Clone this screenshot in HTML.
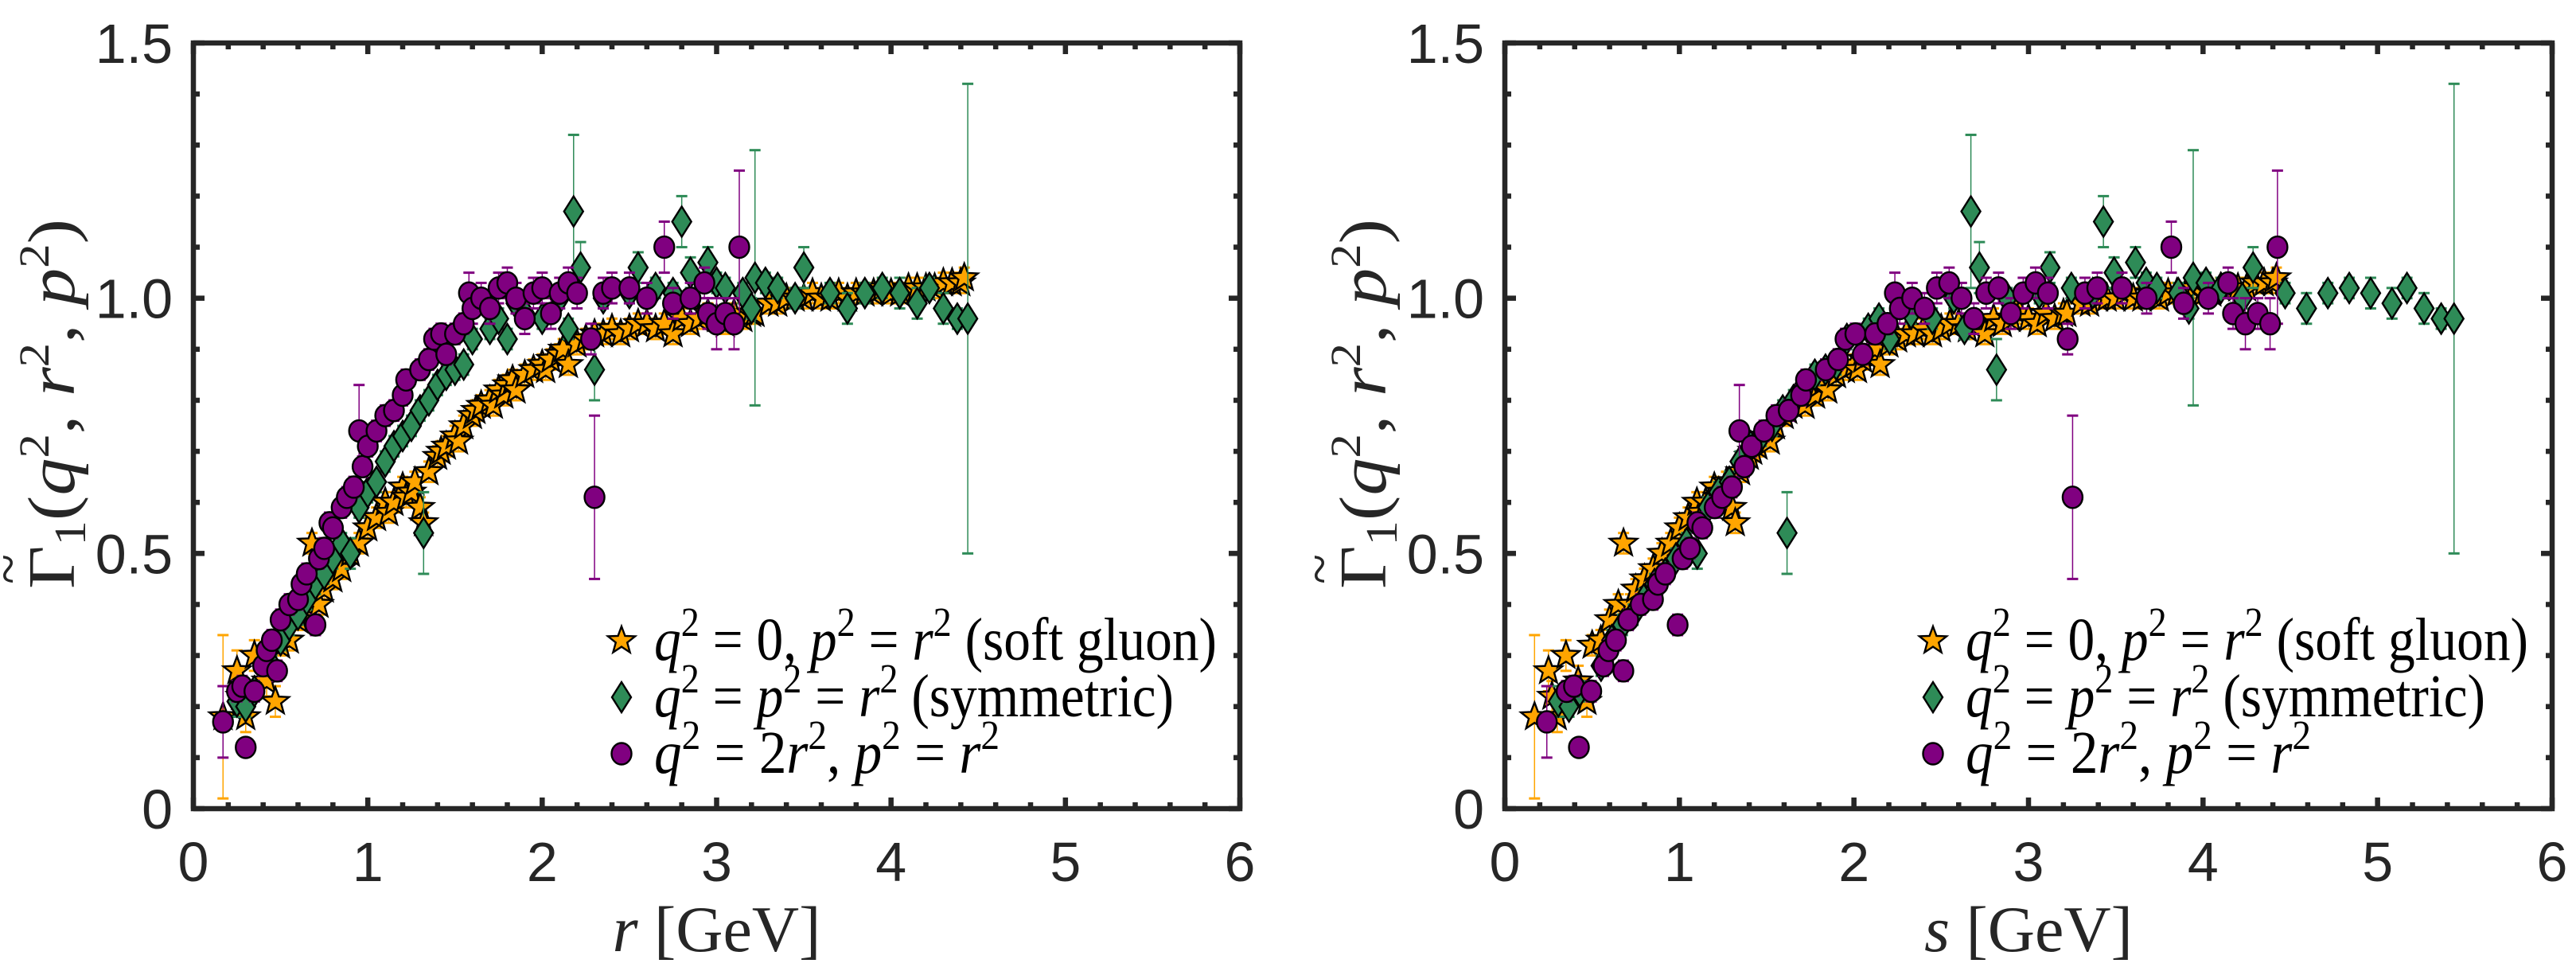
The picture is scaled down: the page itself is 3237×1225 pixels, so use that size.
<!DOCTYPE html>
<html><head><meta charset="utf-8"><style>
html,body{margin:0;padding:0;background:#fff;}
svg{display:block;}
</style></head><body>
<svg id="fig" width="3237" height="1225" viewBox="0 0 3237 1225" xmlns="http://www.w3.org/2000/svg"></svg>
<script>
// ---- data: soft gluon (q^2=0, p^2=r^2) ----
const sgR = [0.17,0.25,0.27,0.30,0.35,0.42,0.47,0.50,0.55,0.60,0.65,0.68,0.72,0.75,0.80,0.85,0.90,0.95,1.00,1.05,1.10,1.12,1.15,1.20,1.22,1.25,1.27,1.30,1.32,1.35,1.40,1.42,1.45,1.50,1.52,1.55,1.60,1.62,1.65,1.70,1.72,1.75,1.78,1.80,1.83,1.85,1.90,1.95,2.00,2.02,2.05,2.10,2.12,2.15,2.20,2.25,2.30,2.35,2.40,2.45,2.50,2.55,2.60,2.65,2.70,2.75,2.80,2.85,2.90,2.95,3.00,3.05,3.10,3.15,3.20,3.22,3.30,3.35,3.40,3.45,3.50,3.55,3.60,3.65,3.70,3.75,3.80,3.85,3.90,3.95,4.00,4.05,4.10,4.15,4.20,4.25,4.30,4.35,4.40,4.42];
const sgY = [0.18,0.27,0.22,0.18,0.30,0.25,0.21,0.32,0.33,0.37,0.40,0.52,0.40,0.43,0.45,0.47,0.50,0.52,0.55,0.57,0.60,0.58,0.60,0.63,0.61,0.62,0.64,0.59,0.56,0.66,0.69,0.70,0.71,0.73,0.72,0.75,0.77,0.78,0.79,0.80,0.79,0.82,0.81,0.83,0.84,0.82,0.85,0.86,0.87,0.86,0.88,0.89,0.90,0.87,0.91,0.92,0.93,0.93,0.94,0.93,0.94,0.95,0.95,0.94,0.95,0.93,0.96,0.95,0.96,0.97,0.96,0.95,0.97,0.96,0.97,0.97,0.99,0.99,1.00,1.00,1.00,1.01,1.00,1.00,1.01,1.00,1.01,1.01,1.01,1.02,1.01,1.01,1.02,1.02,1.02,1.02,1.03,1.03,1.03,1.04];
const sgE = [0.16,0.04,0.03,0.03,0.03,0.03,0.03,0.02,0.02,0.02,0.02,0.02,0.02,0.02,0.02,0.02,0.02,0.02,0.02,0.02,0.02,0.02,0.02,0.02,0.02,0.02,0.02,0.02,0.02,0.02,0.02,0.02,0.02,0.02,0.02,0.02,0.02,0.02,0.02,0.02,0.02,0.02,0.02,0.02,0.02,0.02,0.02,0.02,0.02,0.02,0.02,0.02,0.02,0.02,0.02,0.02,0.02,0.02,0.02,0.02,0.02,0.02,0.02,0.02,0.02,0.02,0.02,0.02,0.02,0.02,0.02,0.02,0.02,0.02,0.02,0.02,0.02,0.02,0.02,0.02,0.02,0.02,0.02,0.02,0.02,0.02,0.02,0.02,0.02,0.02,0.02,0.02,0.02,0.02,0.02,0.02,0.02,0.02,0.02,0.02];
// ---- data: symmetric (q^2=p^2=r^2) ----
const syR = [0.25,0.30,0.35,0.45,0.50,0.55,0.60,0.65,0.70,0.75,0.80,0.85,0.90,0.95,1.00,1.05,1.10,1.15,1.20,1.25,1.30,1.32,1.35,1.40,1.45,1.50,1.55,1.60,1.70,1.75,1.80,1.85,1.90,2.00,2.10,2.15,2.18,2.22,2.30,2.35,2.50,2.55,2.65,2.75,2.80,2.85,2.95,3.00,3.05,3.15,3.20,3.22,3.28,3.35,3.45,3.50,3.65,3.75,3.85,3.95,4.05,4.15,4.22,4.30,4.38,4.44];
const syY = [0.21,0.20,0.23,0.28,0.33,0.36,0.38,0.41,0.44,0.46,0.49,0.52,0.50,0.59,0.62,0.64,0.68,0.71,0.73,0.75,0.78,0.54,0.80,0.83,0.85,0.86,0.87,0.92,0.94,0.96,0.92,0.99,0.97,0.96,1.00,0.94,1.17,1.06,0.86,1.00,1.01,1.06,1.02,1.01,1.15,1.05,1.07,1.03,1.02,1.01,0.98,1.04,1.03,1.02,1.00,1.06,1.01,0.98,1.01,1.02,1.01,0.99,1.02,0.98,0.96,0.96];
const syE = [0.03,0.02,0.02,0.02,0.02,0.02,0.02,0.02,0.02,0.02,0.02,0.02,0.03,0.02,0.02,0.02,0.02,0.02,0.02,0.02,0.02,0.08,0.02,0.02,0.02,0.02,0.02,0.02,0.02,0.02,0.02,0.02,0.02,0.02,0.02,0.02,0.15,0.05,0.06,0.02,0.02,0.03,0.02,0.02,0.05,0.03,0.03,0.02,0.02,0.02,0.02,0.25,0.02,0.02,0.02,0.04,0.02,0.03,0.02,0.02,0.03,0.03,0.02,0.03,0.02,0.46];
// ---- data: q^2=2r^2, p^2=r^2 ----
const asR = [0.17,0.25,0.28,0.30,0.35,0.40,0.42,0.45,0.48,0.50,0.55,0.60,0.62,0.65,0.70,0.72,0.75,0.78,0.80,0.85,0.88,0.92,0.95,0.97,1.00,1.05,1.10,1.15,1.20,1.22,1.30,1.35,1.38,1.42,1.45,1.50,1.55,1.58,1.60,1.65,1.70,1.75,1.80,1.85,1.90,1.95,2.00,2.05,2.10,2.15,2.20,2.28,2.30,2.35,2.40,2.50,2.60,2.70,2.75,2.85,2.93,2.95,3.00,3.05,3.10,3.13];
const asY = [0.17,0.23,0.24,0.12,0.23,0.28,0.31,0.33,0.27,0.37,0.40,0.41,0.44,0.46,0.36,0.49,0.51,0.56,0.55,0.59,0.61,0.63,0.74,0.67,0.71,0.74,0.77,0.78,0.81,0.84,0.86,0.88,0.92,0.93,0.89,0.93,0.95,1.01,0.98,1.00,0.98,1.02,1.03,1.00,0.96,1.01,1.02,0.97,1.01,1.03,1.01,0.92,0.61,1.01,1.02,1.02,1.00,1.10,0.99,1.00,1.03,0.97,0.95,0.97,0.95,1.10];
const asE = [0.07,0.02,0.02,0.01,0.02,0.02,0.02,0.02,0.02,0.02,0.02,0.02,0.02,0.02,0.02,0.02,0.02,0.02,0.02,0.02,0.02,0.02,0.09,0.02,0.02,0.02,0.02,0.02,0.02,0.02,0.02,0.02,0.02,0.02,0.02,0.02,0.02,0.04,0.03,0.03,0.03,0.03,0.03,0.03,0.03,0.03,0.03,0.03,0.03,0.03,0.03,0.03,0.16,0.03,0.03,0.03,0.03,0.05,0.03,0.03,0.03,0.03,0.05,0.03,0.05,0.15];
// s^2 = (q^2+r^2+p^2)/2  -> s = factor * r
const sFactor = [1, Math.sqrt(1.5), Math.sqrt(2)];
const xTicks = [0,1,2,3,4,5,6];
const yTicks = [0,0.5,1.0,1.5];
const yTickLabels = ["0","0.5","1.0","1.5"];

const NS = "http://www.w3.org/2000/svg";
const svg = document.getElementById('fig');
function mk(tag, attrs, parent){
  const e = document.createElementNS(NS, tag);
  for (const k in attrs) e.setAttribute(k, attrs[k]);
  (parent||svg).appendChild(e);
  return e;
}
const AX = '#262626';
const COL = ['#FFA500','#2E8B57','#800080'];

function starPath(cx, cy, R){
  const r = R*0.42; let d='';
  for (let i=0;i<10;i++){
    const a = -Math.PI/2 + i*Math.PI/5;
    const rr = i%2===0 ? R : r;
    d += (i===0?'M':'L') + (cx+rr*Math.cos(a)).toFixed(1)+','+(cy+rr*Math.sin(a)).toFixed(1);
  }
  return d+'Z';
}
function marker(kind, cx, cy, g){
  let m;
  if (kind===0){
    m = mk('path',{d:starPath(cx,cy,18),fill:COL[0],stroke:'#000','stroke-width':2.4,'stroke-linejoin':'miter'},g);
  } else if (kind===1){
    m = mk('path',{d:`M${cx},${cy-19}L${cx+12},${cy}L${cx},${cy+19}L${cx-12},${cy}Z`,fill:COL[1],stroke:'#000','stroke-width':2.4},g);
  } else {
    m = mk('ellipse',{cx:cx,cy:cy,rx:12.5,ry:13.5,fill:COL[2],stroke:'#000','stroke-width':2.4},g);
  }
  return m;
}

function panel(px0, px1, xlabelVar, useS, tag){
  const py0 = 54, py1 = 1016;
  const xs = v => px0 + v/6*(px1-px0);
  const ys = v => py1 - v/1.5*(py1-py0);
  const g = mk('g',{});
  
  
  const series = [[sgR,sgY,sgE],[syR,syY,syE],[asR,asY,asE]];
  const names = ['soft-gluon','symmetric','asymmetric'];
  series.forEach((s,k)=>{
    const sg = mk('g',{},g);
    
    
    const f = useS ? sFactor[k] : 1;
    const [R,Y,E] = s;
    for (let i=0;i<R.length;i++){
      const x = xs(R[i]*f), yt = ys(Y[i]+E[i]), yb = ys(Y[i]-E[i]);
      mk('line',{x1:x,y1:yt,x2:x,y2:yb,stroke:COL[k],'stroke-width':1.5},sg);
      mk('line',{x1:x-7,y1:yt,x2:x+7,y2:yt,stroke:COL[k],'stroke-width':3},sg);
      mk('line',{x1:x-7,y1:yb,x2:x+7,y2:yb,stroke:COL[k],'stroke-width':3},sg);
    }
    for (let i=0;i<R.length;i++){
      const m = marker(k, xs(R[i]*f), ys(Y[i]), sg);
      
      
    }
  });
  const box = mk('rect',{x:px0,y:py0,width:px1-px0,height:py1-py0,fill:'none',stroke:AX,'stroke-width':6.5},g);
  
  
  for (let i=0;i<=30;i++){
    const v = i*0.2, x = xs(v), L = (i%5===0)?14:8;
    mk('line',{x1:x,y1:py1,x2:x,y2:py1-L,stroke:AX,'stroke-width':6.5},g);
    mk('line',{x1:x,y1:py0,x2:x,y2:py0+L,stroke:AX,'stroke-width':6.5},g);
  }
  for (let i=0;i<=15;i++){
    const v = i*0.1, y = ys(v), L = (i%5===0)?14:8;
    mk('line',{x1:px0,y1:y,x2:px0+L,y2:y,stroke:AX,'stroke-width':6.5},g);
    mk('line',{x1:px1,y1:y,x2:px1-L,y2:y,stroke:AX,'stroke-width':6.5},g);
  }
  xTicks.forEach(v=>{
    const t = mk('text',{x:xs(v),y:1107,'text-anchor':'middle','font-family':'Liberation Sans, sans-serif','font-size':70,fill:AX},g);
    t.textContent = String(v);
    
    
  });
  yTicks.forEach((v,i)=>{
    const t = mk('text',{x:px0-26,y:ys(v)+25,'text-anchor':'end','font-family':'Liberation Sans, sans-serif','font-size':70,fill:AX},g);
    t.textContent = yTickLabels[i];
    
    
  });
  const xl = mk('text',{x:(px0+px1)/2,y:1195,'text-anchor':'middle','font-family':'Liberation Serif, serif','font-size':82,fill:AX},g);
  xl.innerHTML = `<tspan font-style="italic">${xlabelVar}</tspan> [GeV]`;
  
  
  // y label
  const ylx = px0 - 150;
  const yg = mk('g',{transform:`translate(${ylx},740) rotate(-90)`},g);
  
  
  const yl = mk('text',{x:0,y:0,'text-anchor':'start','font-family':'Liberation Serif, serif','font-size':84,fill:AX,textLength:465,lengthAdjust:'spacingAndGlyphs'},yg);
  yl.innerHTML = `Γ<tspan font-size="56" dy="14">1</tspan><tspan dy="-14">(</tspan><tspan font-style="italic">q</tspan><tspan font-size="54" dy="-32">2</tspan><tspan dy="32">, </tspan><tspan font-style="italic">r</tspan><tspan font-size="54" dy="-32">2</tspan><tspan dy="32">, </tspan><tspan font-style="italic">p</tspan><tspan font-size="54" dy="-32">2</tspan><tspan dy="32">)</tspan>`;
  const tl = mk('text',{x:6,y:-60,'font-family':'Liberation Serif, serif','font-size':70,fill:AX},yg);
  tl.textContent = '~';
  // legend
  const lg = mk('g',{},g);
  
  
  const ox = px0 + 538;
  const rows = [
    {y:805, w:707, html:`<tspan font-style="italic">q</tspan><tspan font-size="52" dy="-30">2</tspan><tspan dy="30"> = 0, </tspan><tspan font-style="italic">p</tspan><tspan font-size="52" dy="-30">2</tspan><tspan dy="30"> = </tspan><tspan font-style="italic">r</tspan><tspan font-size="52" dy="-30">2</tspan><tspan dy="30"> (soft gluon)</tspan>`},
    {y:876, w:653, html:`<tspan font-style="italic">q</tspan><tspan font-size="52" dy="-30">2</tspan><tspan dy="30"> = </tspan><tspan font-style="italic">p</tspan><tspan font-size="52" dy="-30">2</tspan><tspan dy="30"> = </tspan><tspan font-style="italic">r</tspan><tspan font-size="52" dy="-30">2</tspan><tspan dy="30"> (symmetric)</tspan>`},
    {y:947, w:434, html:`<tspan font-style="italic">q</tspan><tspan font-size="52" dy="-30">2</tspan><tspan dy="30"> = 2</tspan><tspan font-style="italic">r</tspan><tspan font-size="52" dy="-30">2</tspan><tspan dy="30">, </tspan><tspan font-style="italic">p</tspan><tspan font-size="52" dy="-30">2</tspan><tspan dy="30"> = </tspan><tspan font-style="italic">r</tspan><tspan font-size="52" dy="-30">2</tspan>`}
  ];
  rows.forEach((r,k)=>{
    const m = marker(k, ox, r.y, lg);
    
    
    const t = mk('text',{x:ox+41,y:r.y+24,'font-family':'Liberation Serif, serif','font-size':76,fill:'#000',textLength:r.w,lengthAdjust:'spacingAndGlyphs'},lg);
    t.innerHTML = r.html;
    
    
  });
}
panel(243, 1558, 'r', false, 'left');
panel(1891, 3207, 's', true, 'right');
</script>
</body></html>
